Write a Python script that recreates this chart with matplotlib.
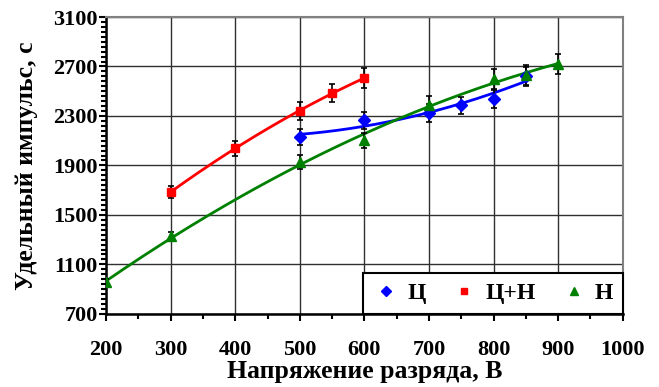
import numpy as np
import matplotlib
matplotlib.use('Agg')
import matplotlib.pyplot as plt
from matplotlib.lines import Line2D
from matplotlib.ticker import MultipleLocator

plt.rcParams['font.family'] = ['Liberation Serif', 'DejaVu Serif']
plt.rcParams['font.weight'] = 'bold'

# discharge voltage, V and specific impulse, s
u_c = [500, 600, 700, 750, 800, 850]
isp_c = [2130, 2265, 2325, 2385, 2440, 2620]

u_cn = [300, 400, 500, 550, 600]
isp_cn = [1685, 2040, 2340, 2487, 2606]

u_n = [200, 300, 500, 600, 700, 800, 850, 900]
isp_n = [955, 1326, 1927, 2103, 2392, 2598, 2630, 2723]

labels = ['Ц', 'Ц+Н', 'Н']
colors = ['#0000FF', '#FF0000', '#008000']
markers = ['D', 's', '^']
msizes = [6, 6, 7]
rel_err = 0.03

fig = plt.figure(figsize=(6.59, 3.87), dpi=100)
ax = fig.add_axes([0.161, 0.189, 0.784, 0.767])

series = [(u_c, isp_c), (u_cn, isp_cn), (u_n, isp_n)]
handles = []
for (u, isp), lab, col, mk, ms in zip(series, labels, colors, markers, msizes):
    u = np.array(u, dtype=float)
    isp = np.array(isp, dtype=float)
    # quadratic trend line
    coef = np.polyfit(u, isp, 2)
    uu = np.linspace(u.min(), u.max(), 200)
    ax.plot(uu, np.polyval(coef, uu), color=col, lw=2, zorder=3)
    ax.errorbar(u, isp, yerr=isp * rel_err, fmt=mk, color=col, ms=ms,
                ecolor='black', elinewidth=1.2, capsize=2.5, capthick=1.2,
                zorder=4)
    handles.append(Line2D([], [], ls='none', marker=mk, color=col, ms=ms * 0.8,
                          label=lab))

ax.set_xlim(200, 1000)
ax.set_ylim(700, 3100)
ax.xaxis.set_major_locator(MultipleLocator(100))
ax.xaxis.set_minor_locator(MultipleLocator(50))
ax.set_yticks(np.arange(700, 3101, 400))
ax.set_yticks(np.arange(700, 3101, 40), minor=True)
ax.grid(True, which='major', color='#303030', lw=1, zorder=0)
ax.set_axisbelow(True)

ax.tick_params(axis='both', which='major', direction='out', length=5, width=1.5,
               labelsize=16)
ax.tick_params(axis='both', which='minor', direction='out', length=3.5, width=1.5)
ax.tick_params(axis='x', which='major', pad=14)
ax.tick_params(axis='y', which='major', pad=1)
for s in ['left', 'bottom']:
    ax.spines[s].set_linewidth(1.8)
    ax.spines[s].set_color('black')
for s in ['top', 'right']:
    ax.spines[s].set_linewidth(1.5)
    ax.spines[s].set_color('#808080')

ax.set_xlabel('Напряжение разряда, В', fontsize=18.5, fontweight='bold', labelpad=0)
ax.set_ylabel('Удельный импульс, с', fontsize=18.5, fontweight='bold', labelpad=11)

leg = ax.legend(handles=handles, loc='lower left',
                bbox_to_anchor=(0.497, 0.0, 0.503, 0.172),
                mode='expand', ncol=3, fancybox=False, framealpha=1,
                edgecolor='black', prop={'size': 17, 'weight': 'bold'},
                handletextpad=0.3, borderaxespad=0, handlelength=1.2)
leg.get_frame().set_linewidth(1.5)

fig.savefig('out.png', dpi=100)
